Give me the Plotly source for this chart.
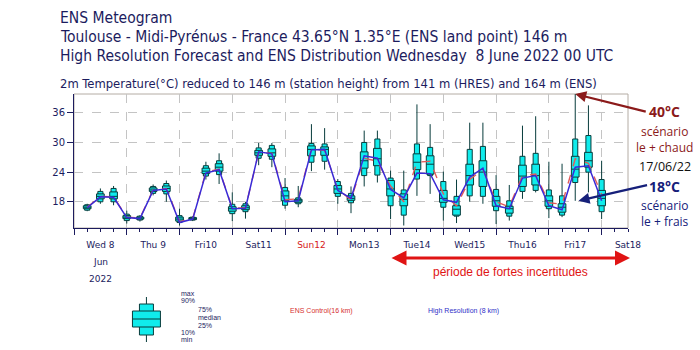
import plotly.graph_objects as go

# ---------------- data ----------------
hours = list(range(6, 241, 6))  # hours since Wed 8 June 2022 00 UTC

ens_min = [16.1, 17.6, 17.3, 13.6, 14.0, 19.3, 18.0, 13.2, 14.1, 22.5,
           21.6, 14.1, 14.6, 25.4, 25.0, 16.6, 16.9, 24.2, 24.5, 17.6,
           15.7, 21.1, 21.9, 14.5, 13.2, 19.2, 19.6, 14.2, 13.7, 18.0,
           17.6, 13.5, 14.2, 18.6, 19.9, 14.7, 14.9, 18.2, 19.9, 14.5]
ens_p10 = [16.3, 18.0, 18.0, 14.2, 14.3, 19.7, 19.6, 13.8, 14.3, 23.2,
           23.5, 15.6, 16.0, 26.8, 26.6, 17.3, 17.6, 26.0, 26.2, 19.1,
           17.8, 23.3, 23.4, 17.2, 15.3, 22.6, 23.3, 16.9, 15.1, 19.2,
           19.1, 16.2, 15.1, 20.1, 20.3, 16.6, 15.3, 21.9, 24.0, 16.0]
ens_p25 = [16.6, 18.6, 18.6, 14.6, 14.5, 20.1, 20.1, 14.1, 14.4, 23.7,
           24.2, 16.1, 16.4, 27.4, 27.2, 18.2, 17.9, 27.3, 27.4, 19.7,
           18.3, 24.8, 25.3, 19.2, 17.2, 24.5, 23.6, 17.9, 15.3, 21.4,
           21.1, 17.1, 15.7, 21.1, 21.4, 17.1, 15.9, 23.0, 25.0, 17.2]
ens_med = [16.9, 19.1, 19.1, 14.9, 14.7, 20.4, 20.7, 14.5, 14.6, 24.2,
           25.0, 16.6, 16.8, 27.9, 27.9, 19.2, 18.2, 28.6, 28.6, 20.6,
           18.7, 26.3, 26.7, 20.6, 18.5, 26.0, 25.6, 18.7, 16.5, 23.3,
           24.0, 18.2, 16.6, 23.2, 23.3, 18.2, 16.9, 24.6, 26.3, 18.7]
ens_p75 = [17.2, 19.6, 20.0, 15.2, 14.9, 20.8, 21.2, 14.9, 14.8, 24.8,
           25.7, 17.0, 17.2, 28.4, 28.7, 20.2, 18.5, 29.3, 29.1, 21.3,
           19.2, 28.1, 28.8, 22.3, 19.6, 27.7, 27.3, 20.3, 17.2, 25.6,
           26.3, 19.1, 17.1, 25.4, 25.6, 19.2, 17.6, 27.2, 28.0, 20.3]
ens_p90 = [17.4, 20.1, 20.7, 15.5, 15.1, 21.1, 21.7, 15.2, 14.9, 25.3,
           26.3, 17.5, 17.6, 28.9, 29.4, 20.9, 18.8, 29.8, 29.7, 22.1,
           19.7, 30.0, 30.7, 22.8, 20.4, 29.7, 29.0, 22.1, 19.1, 28.6,
           29.2, 20.5, 18.2, 27.2, 27.8, 20.4, 19.2, 30.7, 31.4, 22.5]
ens_max = [17.6, 20.7, 21.2, 16.2, 15.3, 21.5, 22.3, 16.6, 15.1, 26.1,
           27.8, 19.9, 18.0, 29.9, 29.9, 22.8, 21.2, 33.7, 32.9, 22.6,
           21.1, 32.4, 32.4, 24.3, 24.3, 37.7, 33.7, 24.1, 22.5, 34.0,
           34.0, 23.4, 21.4, 33.4, 35.3, 26.1, 25.7, 40.0, 37.5, 26.3]
hres = [16.8, 19.0, 18.9, 14.8, 14.6, 20.3, 20.6, 13.8, 14.5, 23.8,
        24.5, 16.6, 16.7, 28.1, 27.7, 18.0, 18.2, 28.5, 28.6, 20.3,
        18.7, 27.3, 26.8, 20.5, 18.8, 23.8, 23.7, 18.4, 17.9, 23.0,
        24.8, 17.2, 16.6, 22.8, 23.3, 17.2, 16.4, 25.0, 25.3, 18.2]
ctrl = [16.9, 19.1, 19.0, 14.9, 14.7, 20.4, 20.7, 14.0, 14.6, 24.0,
        24.6, 16.7, 16.8, 28.0, 27.8, 18.4, 18.6, 28.7, 28.4, 20.5,
        18.4, 26.8, 26.2, 21.2, 18.0, 26.0, 26.2, 19.6, 17.2, 22.5,
        24.5, 18.0, 17.0, 23.3, 23.6, 17.8, 17.5, 26.7, 25.8, 19.5]

day_bounds = list(range(0, 241, 24))
day_mid = [12 + 24 * i for i in range(11)]
day_labels = ["Wed 8", "Thu 9", "Fri10", "Sat11", '<span style="color:#d62020">Sun12</span>',
              "Mon13", "Tue14", "Wed15", "Thu16", "Fri17", "Sat18"]
y_ticks = [18, 24, 30, 36]

# ---------------- layout helpers ----------------
W, H = 700, 350
L, R, T, B = 73.5, 628.0, 94.0, 228.0
NAVY = "#1c1c5e"
FONT = "DejaVu Sans Condensed, DejaVu Sans, sans-serif"


def px(x):
    return (x - L) / (R - L)


def py(y):
    return (B - y) / (B - T)


fig = go.Figure()

common = dict(x=hours, boxpoints=False, whiskerwidth=0, fillcolor="#10ecec",
              line=dict(color="#083c3c", width=1), hoverinfo="skip", showlegend=False)
fig.add_trace(go.Box(q1=ens_p10, median=ens_med, q3=ens_p90,
                     lowerfence=ens_min, upperfence=ens_max, width=2.3, **common))
fig.add_trace(go.Box(q1=ens_p25, median=ens_med, q3=ens_p75,
                     lowerfence=ens_p25, upperfence=ens_p75, width=3.5, **common))
fig.add_trace(go.Scatter(x=hours, y=ctrl, mode="lines", showlegend=False,
                         line=dict(color="#e05a5a", width=1.4, dash="dash")))
fig.add_trace(go.Scatter(x=hours, y=hres, mode="lines", showlegend=False,
                         line=dict(color="#3a2ad6", width=1.5)))
fig.add_trace(go.Scatter(x=[None], y=[None], xaxis="x2", showlegend=False, hoverinfo="skip"))

fig.update_layout(
    width=W, height=H,
    margin=dict(l=L, r=W - R, t=T, b=H - B),
    paper_bgcolor="white", plot_bgcolor="white",
    boxmode="overlay",
    font=dict(family=FONT, color=NAVY, size=9),
    xaxis=dict(range=[0, 252], tickmode="array", tickvals=day_mid, ticktext=day_labels,
               ticks="outside", ticklen=8, tickcolor="rgba(0,0,0,0)",
               showgrid=False, zeroline=False, showline=True, linecolor=NAVY, linewidth=1,
               tickfont=dict(size=9, color=NAVY, family="DejaVu Sans"),
               minor=dict(tickmode="linear", tick0=0, dtick=6, ticks="outside",
                          ticklen=3, tickcolor=NAVY, tickwidth=1, showgrid=False)),
    xaxis2=dict(range=[0, 252], overlaying="x", anchor="y", side="bottom",
                tickmode="array", tickvals=day_bounds, ticks="outside", ticklen=6,
                tickcolor=NAVY, tickwidth=1, showticklabels=False,
                showgrid=True, gridcolor="#c4c4c4", griddash="dash", gridwidth=1,
                zeroline=False, showline=False),
    yaxis=dict(range=[12.7, 39.8], tickmode="array", tickvals=y_ticks,
               ticks="outside", ticklen=6, tickcolor=NAVY,
               showgrid=True, gridcolor="#c4c4c4", griddash="dash",
               zeroline=False, showline=True, linecolor=NAVY,
               tickfont=dict(size=10, color=NAVY, family="DejaVu Sans")),
)

# frame
fig.add_shape(type="rect", xref="paper", yref="paper", x0=0, x1=1, y0=0, y1=1,
              line=dict(color="#b4aca4", width=1), layer="below")

ann = []
# titles
titles = [
    ("ENS Meteogram", 18, 15.5),
    ("Toulouse - Midi-Pyrénωs - France 43.65°N 1.35°E (ENS land point) 146 m", 37, 15.5),
    ("High Resolution Forecast and ENS Distribution Wednesday  8 June 2022 00 UTC", 56, 15.5),
    ("2m Temperature(°C) reduced to 146 m (station height) from 141 m (HRES) and 164 m (ENS)", 83, 12.9),
]
for txt, yy, fs in titles:
    ann.append(dict(text=txt, xref="paper", yref="paper", x=px(57), y=py(yy),
                    xanchor="left", yanchor="middle", showarrow=False,
                    font=dict(size=fs, color=NAVY, family=FONT)))

# Jun / 2022 under first label
for txt, yy in [("Jun", 262), ("2022", 279)]:
    ann.append(dict(text=txt, xref="x", yref="paper", x=day_mid[0], y=py(yy),
                    xanchor="center", yanchor="middle", showarrow=False,
                    font=dict(size=9, color=NAVY, family="DejaVu Sans")))

# right side comments
DR = "#8b1a1a"
DB = "#16207a"
side = [
    ("<b>40°C</b>", 111.5, DR, 14),
    ("scénario<br>le + chaud", 139, DR, 12),
    ("17/06/22", 166.5, "#111111", 12.5),
    ("<b>18°C</b>", 186.5, DB, 14),
    ("scénario<br>le + frais", 213.5, DB, 12),
]
for txt, yy, col, fs in side:
    ann.append(dict(text=txt, xref="paper", yref="paper", x=px(665), y=py(yy),
                    xanchor="center", yanchor="middle", showarrow=False, borderpad=0,
                    font=dict(size=fs, color=col, family="Open Sans")))

# arrows to the extreme scenarios
ann.append(dict(text="", xref="x", yref="y", x=hours[37], y=39.8, ax=72, ay=18,
                showarrow=True, arrowhead=2, arrowsize=1, arrowwidth=2.2, arrowcolor=DR))
ann.append(dict(text="", xref="x", yref="y", x=hours[37] + 1.5, y=ens_min[37], ax=70, ay=-16,
                showarrow=True, arrowhead=2, arrowsize=1, arrowwidth=2.2, arrowcolor=DB))

# bottom uncertainty period arrow
ann.append(dict(text="", xref="paper", yref="paper", x=px(630), y=py(258), ax=-240, ay=0,
                showarrow=True, arrowhead=2, startarrowhead=2, arrowside="end+start",
                arrowsize=1, startarrowsize=1, arrowwidth=3, arrowcolor="#e01414"))
ann.append(dict(text="période de fortes incertitudes", xref="paper", yref="paper",
                x=px(510), y=py(272), xanchor="center", yanchor="middle", showarrow=False,
                font=dict(size=12, color="#e01414", family="Liberation Sans")))

# legend texts
leg_left = [("max", 293, 180), ("90%", 300, 180), ("75%", 309, 197), ("median", 317, 197),
            ("25%", 325, 197), ("10%", 332, 180), ("min", 339, 180)]
for txt, yy, xx in leg_left:
    ann.append(dict(text=txt, xref="paper", yref="paper", x=px(xx), y=py(yy),
                    xanchor="left", yanchor="middle", showarrow=False, borderpad=0,
                    font=dict(size=7, color=NAVY, family="Liberation Sans")))
ann.append(dict(text="ENS Control(16 km)", xref="paper", yref="paper", x=px(288), y=py(311),
                xanchor="left", yanchor="middle", showarrow=False,
                font=dict(size=7, color="#d63030", family="Liberation Sans")))
ann.append(dict(text="High Resolution (8 km)", xref="paper", yref="paper", x=px(426), y=py(311),
                xanchor="left", yanchor="middle", showarrow=False,
                font=dict(size=7, color="#3030c8", family="Liberation Sans")))
fig.update_layout(annotations=ann)

# legend glyph
cx = 146
shapes = [
    dict(type="line", x0=px(cx), x1=px(cx), y0=py(297), y1=py(342)),
    dict(type="rect", x0=px(cx - 7), x1=px(cx + 7), y0=py(304), y1=py(335), fillcolor="#10ecec"),
    dict(type="rect", x0=px(cx - 14), x1=px(cx + 14), y0=py(311), y1=py(327), fillcolor="#10ecec"),
    dict(type="line", x0=px(cx - 14), x1=px(cx + 14), y0=py(319), y1=py(319)),
]
for s in shapes:
    s.update(xref="paper", yref="paper", line=dict(color="#083c3c", width=1))
    fig.add_shape(**s)

fig.write_html("out.html")
